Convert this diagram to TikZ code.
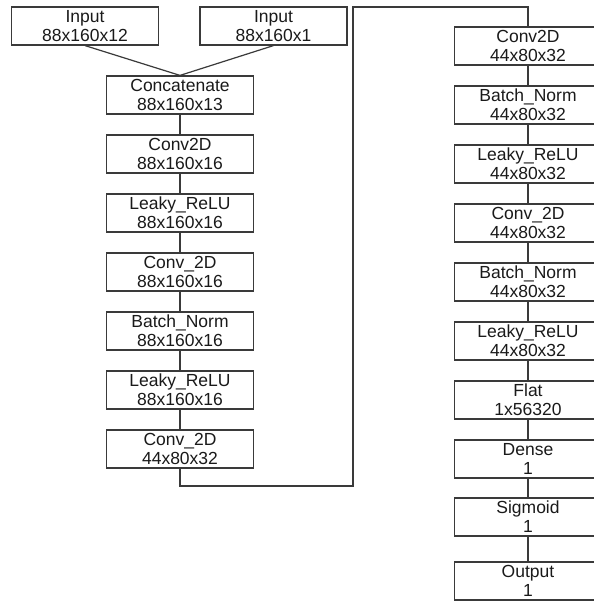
\documentclass[tikz,border=0pt]{standalone}
\usepackage{fontspec}
\setmainfont{Liberation Sans}
\usepackage{xcolor}
\definecolor{edge}{HTML}{3A3A3A}
\definecolor{ink}{HTML}{1A1A1A}

\begin{document}
\begin{tikzpicture}[x=1pt,y=-1pt,
  layer/.style={draw=edge,line width=1.2pt,minimum width=147pt,minimum height=38pt,
    inner sep=0pt,align=center,text=ink,font=\fontsize{17.5}{19}\selectfont},
  link/.style={draw=edge,line width=1.2pt}]
\useasboundingbox (0,0) rectangle (593,601);
\fill[white] (0,0) rectangle (593,601);
% inputs
\node[layer] (inA) at (85,26) {Input\\88x160x12};
\node[layer] (inB) at (273.5,26) {Input\\88x160x1};
% left column
\node[layer] (cat) at (180,95) {Concatenate\\88x160x13};
\node[layer] (convA) at (180,154) {Conv2D\\88x160x16};
\node[layer] (reluA) at (180,213) {Leaky\_ReLU\\88x160x16};
\node[layer] (convB) at (180,272) {Conv\_2D\\88x160x16};
\node[layer] (normA) at (180,331) {Batch\_Norm\\88x160x16};
\node[layer] (reluB) at (180,390) {Leaky\_ReLU\\88x160x16};
\node[layer] (convC) at (180,449) {Conv\_2D\\44x80x32};
% right column
\node[layer] (convD) at (528,46) {Conv2D\\44x80x32};
\node[layer] (normB) at (528,105) {Batch\_Norm\\44x80x32};
\node[layer] (reluC) at (528,164) {Leaky\_ReLU\\44x80x32};
\node[layer] (convE) at (528,223) {Conv\_2D\\44x80x32};
\node[layer] (normC) at (528,282) {Batch\_Norm\\44x80x32};
\node[layer] (reluD) at (528,341) {Leaky\_ReLU\\44x80x32};
\node[layer] (flat) at (528,400) {Flat\\1x56320};
\node[layer] (dense) at (528,459) {Dense\\1};
\node[layer] (sig) at (528,517) {Sigmoid\\1};
\node[layer] (out) at (528,581) {Output\\1};
% connectors
\draw[link] (inA.south) -- (cat.north);
\draw[link] (inB.south) -- (cat.north);
\draw[link] (cat) -- (convA) -- (reluA) -- (convB) -- (normA) -- (reluB) -- (convC);
\coordinate (turnA) at (353,486);
\coordinate (turnB) at (353,7);
\draw[link] (convC.south) |- (turnA) -- (turnB) -| (convD.north);
\draw[link] (convD) -- (normB) -- (reluC) -- (convE) -- (normC) -- (reluD) -- (flat) -- (dense) -- (sig) -- (out);
\end{tikzpicture}
\end{document}
